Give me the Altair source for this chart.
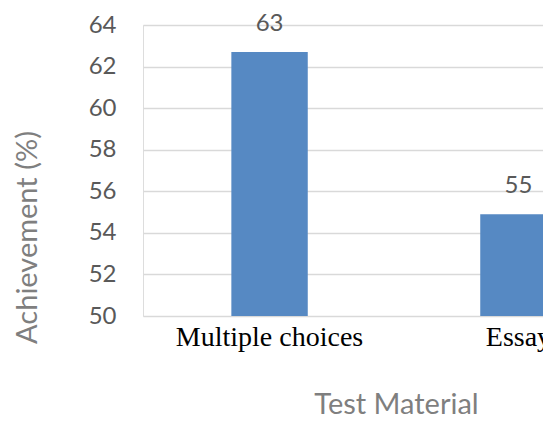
import altair as alt
import pandas as pd

categories = ["Multiple choices", "Essay"]
values = [62.7, 54.9]
y_ticks = [50, 52, 54, 56, 58, 60, 62, 64]
y_min = 50

df = pd.DataFrame({"material": categories, "achievement": values})

x_enc = alt.X(
    "material:N",
    sort=categories,
    scale=alt.Scale(range=[0, 502], paddingInner=0.693, paddingOuter=0.355),
    axis=alt.Axis(
        title="Test Material",
        labelAngle=0,
        labelFont="Liberation Serif",
        labelFontSize=28,
        labelColor="#000000",
        labelBaseline="alphabetic",
        labelPadding=29,
        labelLimit=0,
        ticks=False,
        tickSize=0,
        domain=False,
        grid=False,
        labelOverlap=False,
        titleFont="Lato",
        titleFontSize=29,
        titleFontWeight="normal",
        titleColor="#7f7f7f",
        titleX=253,
        titleY=97,
        titleAlign="center",
        titleBaseline="alphabetic",
    ),
)

y_enc = alt.Y(
    "achievement:Q",
    scale=alt.Scale(domain=[50, 64], zero=False, nice=False),
    axis=alt.Axis(
        title="Achievement  (%)",
        values=y_ticks,
        labelFont="Lato",
        labelFontSize=24,
        labelColor="#595959",
        labelPadding=27,
        ticks=False,
        domain=False,
        grid=True,
        gridColor="#d9d9d9",
        gridWidth=1.5,
        titleFont="Lato",
        titleFontSize=29,
        titleFontWeight="normal",
        titleColor="#7f7f7f",
        titleAngle=270,
        titleX=-116,
        titleY=212,
        titleAlign="center",
        titleBaseline="middle",
    ),
)

base = alt.Chart(df).encode(x=x_enc, y=y_enc)

bars = base.mark_bar(color="#5689c3", clip=True).encode(y2=alt.datum(y_min))

labels = base.transform_calculate(
    lbl="format(round(datum.achievement), 'd')"
).mark_text(
    font="Lato", fontSize=24, color="#595959", baseline="alphabetic", dy=-21
).encode(text="lbl:N")

chart = (
    alt.layer(bars, labels)
    .properties(
        width=400,
        height=291,
        autosize=alt.AutoSizeParams(type="none"),
        padding={"left": 135, "top": 17, "right": 0, "bottom": 104},
    )
    .configure_view(strokeWidth=0, stroke="transparent")
    .configure_axis(domain=False, ticks=False)
    .configure_axisX(grid=False)
    .configure(background="#ffffff")
)

chart.save("out.html", embed_options={"renderer": "svg", "actions": False})
